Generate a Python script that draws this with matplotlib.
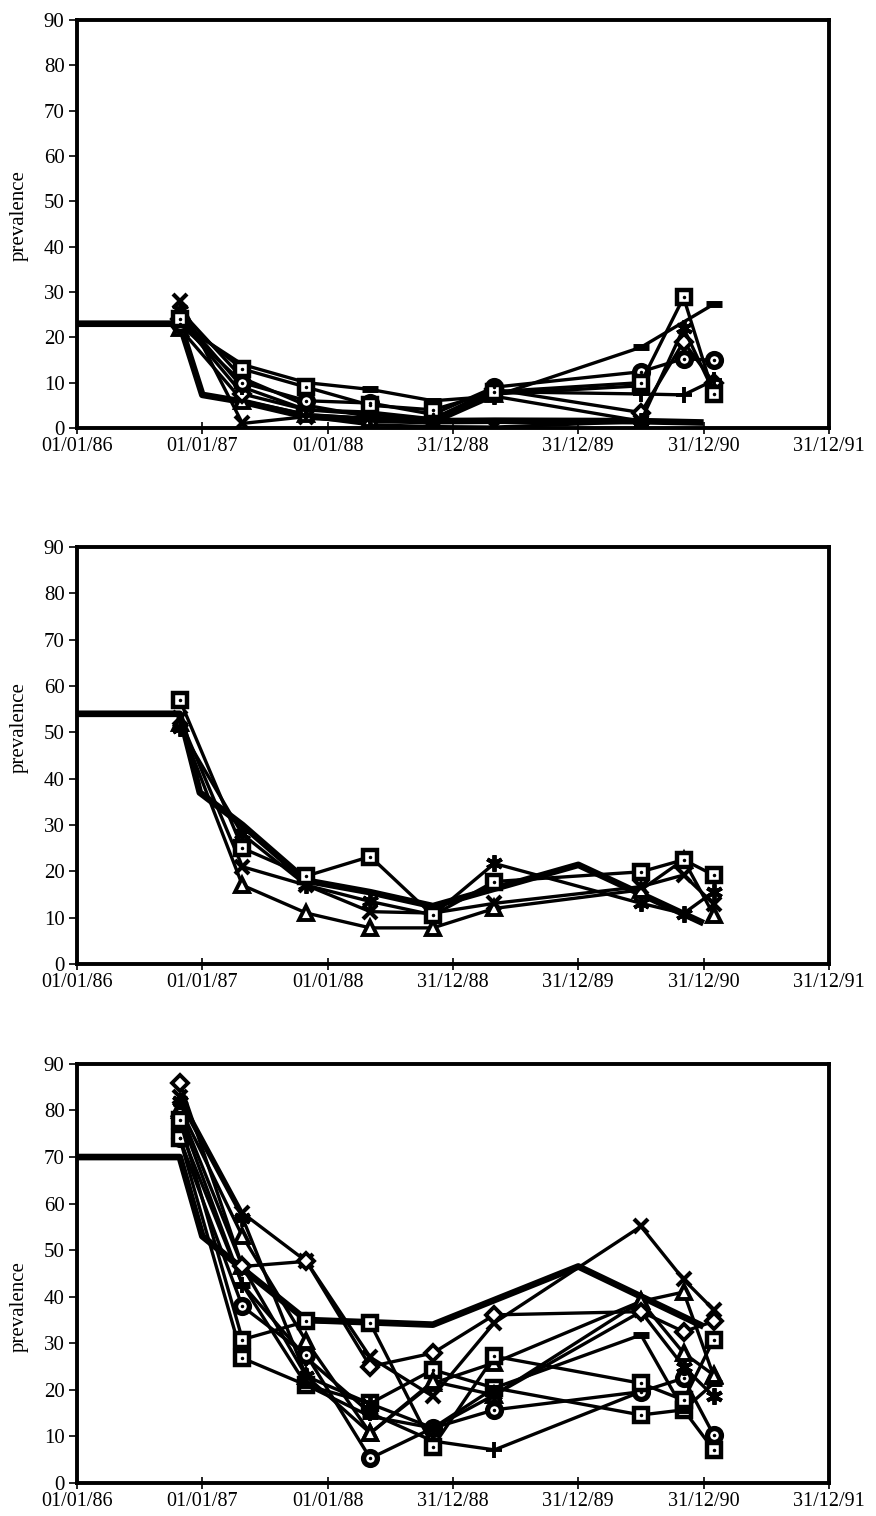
import matplotlib
matplotlib.use("Agg")
import matplotlib.pyplot as plt

plt.rcParams['font.family'] = ['Liberation Serif', 'DejaVu Serif']

# x axis (decimal years) and its labels
tick_pos = [1986, 1987, 1988, 1989, 1990, 1991, 1992]
tick_labels = ['01/01/86', '01/01/87', '01/01/88', '31/12/88', '31/12/89', '31/12/90', '31/12/91']

# survey dates
survey_t = [1986.82, 1987.32, 1987.83, 1988.34, 1988.84, 1989.33, 1990.50, 1990.84, 1991.08]

# ---- panel 1 ----
p1_model_t = [1986.0, 1986.82, 1987.0, 1987.32, 1987.83, 1988.34, 1988.84, 1989.33, 1990.5, 1991.0]
p1_model_y = [23, 23, 7.3, 5.8, 2.5, 1.8, 1.5, 1.6, 1.5, 1.2]
p1_square = [24, 13, 9, 5, 4, 8, 10, 28.8, 7.5]
p1_dash = [23, 14, 10, 8.5, 6, 7, 17.8, None, 27.3]
p1_circle = [23, 10, 6, 5.5, 3, 9, 12.4, 15.3, 14.9]
p1_cross = [28, 1, 2.5, 0.7, 0.3, 0.2, 1.4, None, None]
p1_plus = [25, 9, 4, 3.5, 2, 8, 7.5, 7.3, 10.5]
p1_diamond = [24, 7.5, 4, 3, 2, 8.5, 3.4, 19, 10]
p1_triangle = [22, 6, 3, 2, 1.5, 7.5, 9.3, None, None]
p1_star = [26, 11, 5, 2.5, 1, 7, 1.5, 22, 8]

# ---- panel 2 ----
p2_model_t = [1986.0, 1986.82, 1986.98, 1987.32, 1987.83, 1988.34, 1988.84, 1990.0, 1991.0]
p2_model_y = [54, 54, 37, 30, 18, 15.5, 12.5, 21.4, 8.8]
p2_square = [57, 25, 19, 23.2, 10.5, 17.8, 19.9, 22.5, 19.2]
p2_star = [51, 28, 17, 13.5, 10.6, 21.7, 13.1, 10.9, 15.6]
p2_cross = [53, 21, 17, 11.3, 11, 13.1, 16.7, 19.2, 13]
p2_triangle = [52, 17, 11, 7.8, 7.8, 12, 16, 22.5, 10.6]

# ---- panel 3 ----
p3_model_t = [1986.0, 1986.82, 1987.0, 1987.32, 1987.83, 1988.34, 1988.84, 1990.0, 1991.0]
p3_model_y = [70, 70, 53, 46, 35, 34.5, 34, 46.5, 33.6]
p3_diamond = [86, 46.5, 47.6, 25, 27.9, 36.1, 36.8, 32.5, 34.7]
p3_cross = [83, 58, 47.6, 27, 18.6, 34.4, 55.1, 43.7, 37.2]
p3_triangle = [80.6, 53, 30.4, 10.7, 21.4, 25.8, 39, 27.9, 23.2]
p3_square = [78, 30.8, 34.7, 34.3, 7.8, 27.2, 21.4, 17.8, 30.8]
p3_square2 = [74, 26.8, 21, 17.1, 24.3, 20.4, 14.6, 15.7, 7.1]
p3_circle = [74, 37.9, 27.5, 5.3, 11.8, 15.7, 19.6, 22.5, 10.3]
p3_plus = [76, 42.6, 26.9, 15, 9, 7.1, 19.6, None, None]
p3_dash = [79, 42.6, 21, 14.3, 11.8, 20.4, 31.8, 15.7, 21.4]
p3_star = [82, 57, 22.9, 17, 11.8, 18.9, 36.8, 25, 18.6]
p3_triangle2 = [80, 46.5, 22.9, 10.7, 21.8, 18.9, 39, 41, 23]

STYLES = {
    'square': dict(marker='s', ms=10, mfc='white', mec='black', mew=3.2),
    'circle': dict(marker='o', ms=10, mfc='white', mec='black', mew=3.8),
    'dash': dict(marker='_', ms=11, mec='black', mew=5),
    'cross': dict(marker='x', ms=10, mec='black', mew=3),
    'plus': dict(marker='+', ms=11, mec='black', mew=2.8),
    'diamond': dict(marker='D', ms=8, mfc='white', mec='black', mew=2.8),
    'triangle': dict(marker='^', ms=10, mfc='white', mec='black', mew=2.8),
    'star': dict(marker=(6, 2, 0), ms=12, mec='black', mew=2.8),
}
DOTTED = ('square', 'circle')


def draw_series(ax, values, kind):
    xs = [t for t, v in zip(survey_t, values) if v is not None]
    ys = [v for v in values if v is not None]
    ax.plot(xs, ys, color='black', lw=2.4, zorder=3, **STYLES[kind])
    if kind in DOTTED:
        ax.plot(xs, ys, ls='none', marker='.', ms=3, color='black', zorder=4)


def setup_panel(ax, label_y):
    ax.set_xlim(1986, 1992)
    ax.set_ylim(0, 90)
    ax.set_xticks(tick_pos)
    ax.set_xticklabels(tick_labels)
    ax.set_yticks(range(0, 91, 10))
    ax.tick_params(axis='x', direction='inout', length=9, width=1.2, labelsize=14.5, pad=2)
    ax.tick_params(axis='y', direction='out', length=6, width=1.2, labelsize=15, pad=3)
    for s in ax.spines.values():
        s.set_linewidth(2.8)
    ax.set_ylabel('prevalence', fontsize=15)
    ax.yaxis.set_label_coords(-0.064, label_y)


fig = plt.figure(figsize=(8.76, 15.16), dpi=100)

panels = [
    ([0.0879, 0.7177, 0.8584, 0.2691], p1_model_t, p1_model_y, 0.52,
     [(p1_cross, 'cross'), (p1_triangle, 'triangle'), (p1_diamond, 'diamond'), (p1_plus, 'plus'),
      (p1_star, 'star'), (p1_circle, 'circle'), (p1_dash, 'dash'), (p1_square, 'square')]),
    ([0.0879, 0.3641, 0.8584, 0.2751], p2_model_t, p2_model_y, 0.566,
     [(p2_triangle, 'triangle'), (p2_cross, 'cross'), (p2_star, 'star'), (p2_square, 'square')]),
    ([0.0879, 0.0218, 0.8584, 0.2764], p3_model_t, p3_model_y, 0.42,
     [(p3_plus, 'plus'), (p3_circle, 'circle'), (p3_square2, 'square'), (p3_triangle, 'triangle'),
      (p3_triangle2, 'triangle'), (p3_dash, 'dash'), (p3_star, 'star'), (p3_cross, 'cross'),
      (p3_diamond, 'diamond'), (p3_square, 'square')]),
]

for rect, model_t, model_y, label_y, series in panels:
    ax = fig.add_axes(rect)
    ax.plot(model_t, model_y, color='black', lw=4.8, solid_capstyle='butt', zorder=2, clip_on=False)
    for values, kind in series:
        draw_series(ax, values, kind)
    setup_panel(ax, label_y)

fig.savefig('out.png', dpi=100)
